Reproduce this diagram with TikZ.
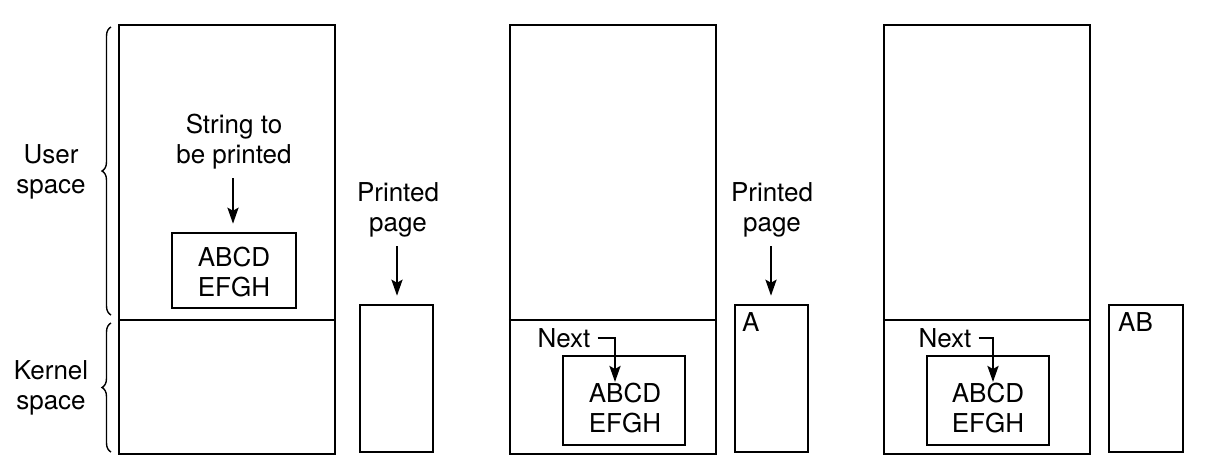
\documentclass[tikz,border=0pt]{standalone}
\usepackage{fontspec}
\setmainfont{TeX Gyre Heros}
\usetikzlibrary{arrows.meta,decorations.pathreplacing}
\begin{document}
\begin{tikzpicture}[x=1pt,y=-1pt,
  box/.style={draw, line width=2.5pt, inner sep=0pt},
  lbl/.style={font=\fontsize{26}{30}\selectfont, align=center, inner sep=0pt},
  arr/.style={-{Stealth[length=16pt,width=11pt,inset=3pt]}, line width=2.4pt},
  brc/.style={decorate, decoration={brace, amplitude=9pt}, line width=1.4pt}]
\useasboundingbox (0,0) rectangle (1219,464);

% ---------- panel 1 ----------
\node[box, minimum width=216pt, minimum height=429pt] (p1) at (227,239.5) {};
\draw[line width=2.5pt] (p1.west |- 0,320) -- (p1.east |- 0,320);
\node[box, minimum width=124pt, minimum height=75pt] (b1) at (234,270.5) {};
\node[lbl] (t1) at (234,272) {ABCD\\EFGH};
\node[lbl] (s1) at (234,142) {String to\\be printed};
\coordinate (s1a) at (233,178);
\draw[arr] (s1a) -- ([yshift=8pt]b1.north -| s1a);
\node[box, minimum width=73pt, minimum height=147pt] (q1) at (396.5,378.5) {};
\node[lbl] (pp1) at (398,210) {Printed\\page};
\coordinate (pp1a) at (397,246);
\draw[arr] (pp1a) -- ([yshift=8pt]q1.north -| pp1a);

% braces
\node[lbl] (us) at (51,171.5) {User\\space};
\node[lbl] (ks) at (51,387.5) {Kernel\\space};
\draw[brc] (111,315) -- (111,27);
\draw[brc] (111,452) -- (111,323);

% ---------- panel 2 ----------
\node[box, minimum width=206pt, minimum height=429pt] (p2) at (613,239.5) {};
\draw[line width=2.5pt] (p2.west |- 0,320) -- (p2.east |- 0,320);
\node[box, minimum width=122pt, minimum height=89pt] (b2) at (624,400.5) {};
\node[lbl] (t2) at (625,408) {ABCD\\EFGH};
\node[lbl] (n2) at (564,338) {Next};
\coordinate (e2) at (615,382);
\draw[arr] ([xshift=7pt]n2.east) -| (e2);
\node[box, minimum width=73pt, minimum height=147pt] (q2) at (771.5,378.5) {};
\node[lbl, anchor=north west] (a2) at (742,312) {A};
\node[lbl] (pp2) at (772,210) {Printed\\page};
\coordinate (pp2a) at (771,246);
\draw[arr] (pp2a) -- ([yshift=8pt]q2.north -| pp2a);

% ---------- panel 3 ----------
\node[box, minimum width=206pt, minimum height=429pt] (p3) at (987,239.5) {};
\draw[line width=2.5pt] (p3.west |- 0,320) -- (p3.east |- 0,320);
\node[box, minimum width=122pt, minimum height=89pt] (b3) at (988,400.5) {};
\node[lbl] (t3) at (988,408) {ABCD\\EFGH};
\node[lbl] (n3) at (945,338) {Next};
\coordinate (e3) at (993,382);
\draw[arr] ([xshift=7pt]n3.east) -| (e3);
\node[box, minimum width=74pt, minimum height=147pt] (q3) at (1146,378.5) {};
\node[lbl, anchor=north west] (a3) at (1118,312) {AB};
\end{tikzpicture}
\end{document}
